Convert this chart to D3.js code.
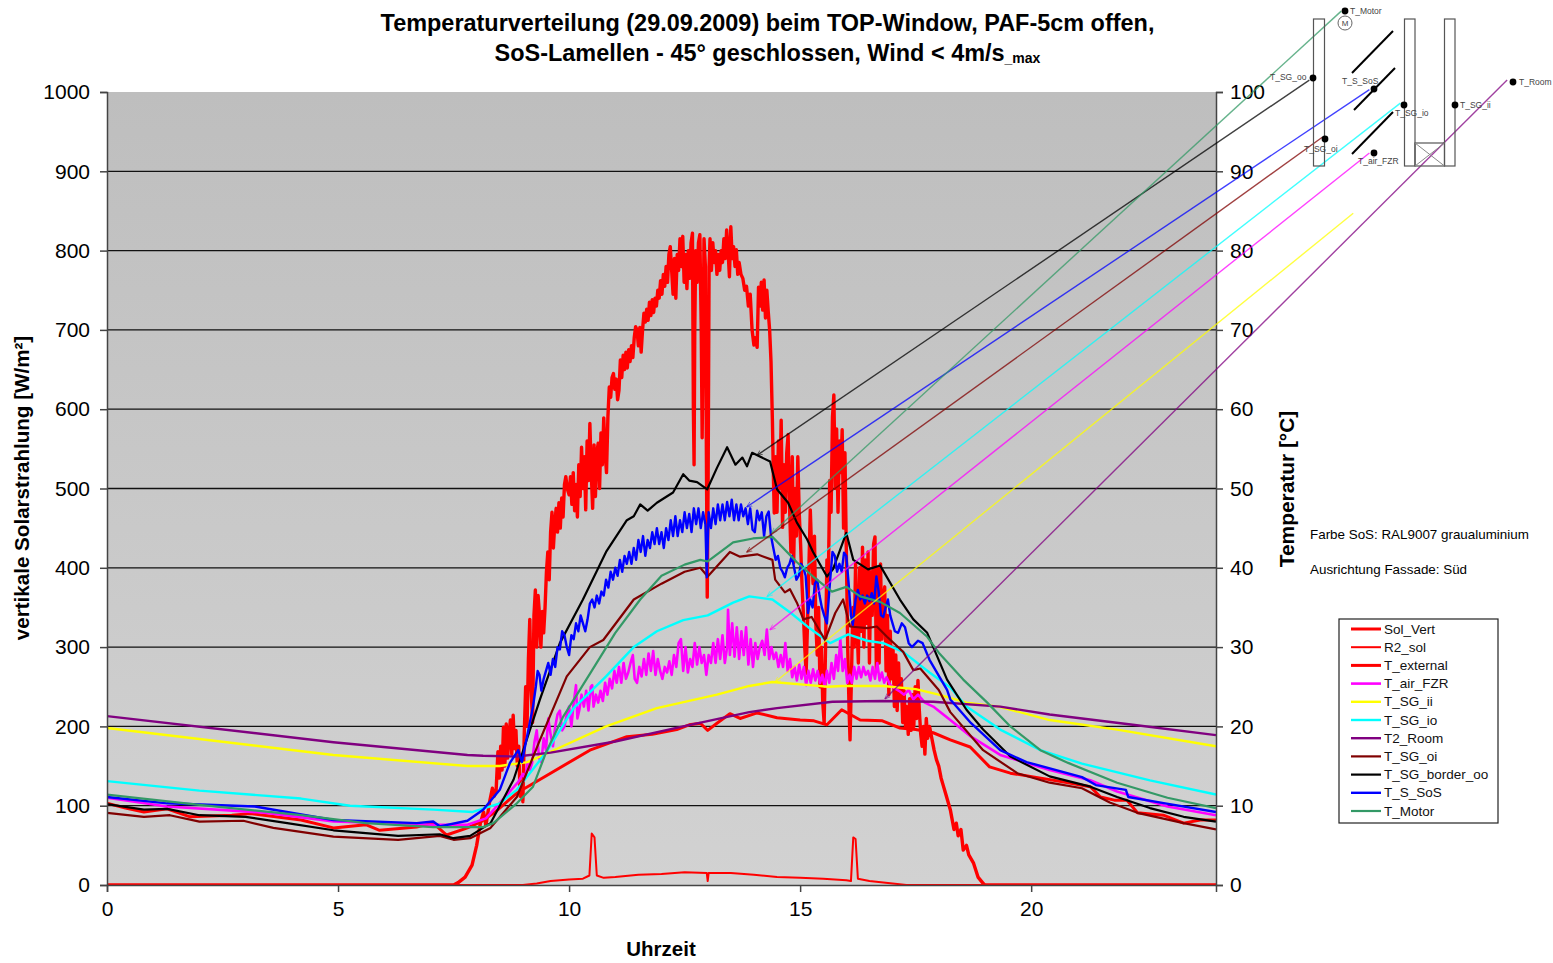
<!DOCTYPE html>
<html>
<head>
<meta charset="utf-8">
<script src="https://cdnjs.cloudflare.com/ajax/libs/d3/7.8.5/d3.min.js"></script>
<style>
  html, body { margin: 0; padding: 0; background: #fff; }
  svg { display: block; font-family: "Liberation Sans", Arial, sans-serif; }
</style>
</head>
<body>
<div id="chart"></div>
<script>
// all series are [hour, value]
var solVert = [[0,0],[7.5,0],[7.6,3],[7.75,10],[7.9,25],[8,50],[8.08,78],[8.15,92],[8.2,75],[8.28,105],[8.34,122],[8.38,112],[8.42,118],[8.46,168],[8.49,135],[8.52,175],[8.55,145],[8.58,199],[8.61,150],[8.64,203],[8.67,160],[8.7,190],[8.73,208],[8.76,165],[8.79,214],[8.82,172],[8.85,195],[8.88,150],[8.91,175],[8.94,112],[8.97,130],[9,105],[9.03,190],[9.06,250],[9.09,200],[9.12,285],[9.15,335],[9.18,245],[9.21,205],[9.24,340],[9.27,372],[9.3,300],[9.33,365],[9.36,340],[9.39,300],[9.42,345],[9.45,318],[9.48,350],[9.51,395],[9.54,420],[9.57,385],[9.6,445],[9.63,470],[9.66,425],[9.69,455],[9.72,475],[9.75,445],[9.78,482],[9.81,450],[9.84,488],[9.87,464],[9.9,505],[9.93,515],[9.96,500],[10,492],[10.03,515],[10.06,480],[10.09,520],[10.12,472],[10.15,505],[10.18,464],[10.21,530],[10.24,490],[10.27,552],[10.3,500],[10.33,540],[10.36,473],[10.39,560],[10.42,510],[10.45,582],[10.48,520],[10.51,475],[10.54,555],[10.57,490],[10.6,545],[10.63,557],[10.66,500],[10.69,570],[10.72,530],[10.75,589],[10.78,545],[10.81,520],[10.84,590],[10.87,628],[10.9,615],[10.93,640],[10.96,645],[10.99,625],[11.02,638],[11.05,612],[11.08,624],[11.11,662],[11.14,640],[11.17,668],[11.2,650],[11.23,672],[11.26,652],[11.29,675],[11.32,660],[11.35,680],[11.38,665],[11.41,690],[11.44,704],[11.47,700],[11.5,680],[11.53,703],[11.56,672],[11.59,700],[11.62,721],[11.65,710],[11.68,726],[11.71,712],[11.74,735],[11.77,718],[11.8,738],[11.83,722],[11.86,740],[11.89,730],[11.92,750],[11.95,740],[11.98,762],[12.01,745],[12.04,770],[12.07,755],[12.1,780],[12.13,760],[12.16,795],[12.19,805],[12.22,775],[12.25,745],[12.28,790],[12.31,740],[12.34,795],[12.37,775],[12.4,815],[12.43,780],[12.46,818],[12.49,760],[12.52,795],[12.55,752],[12.58,800],[12.61,765],[12.64,810],[12.67,822],[12.69,600],[12.705,530],[12.72,700],[12.74,800],[12.77,760],[12.8,810],[12.83,820],[12.86,700],[12.88,564],[12.9,690],[12.92,815],[12.95,780],[12.97,560],[12.99,363],[13.01,520],[13.03,780],[13.05,815],[13.08,775],[13.11,810],[13.14,785],[13.17,800],[13.2,770],[13.23,795],[13.26,775],[13.29,800],[13.32,785],[13.35,815],[13.38,790],[13.41,826],[13.44,800],[13.47,767],[13.5,830],[13.53,790],[13.56,805],[13.59,780],[13.62,801],[13.65,770],[13.68,785],[13.72,770],[13.76,765],[13.8,750],[13.84,755],[13.88,730],[13.92,745],[13.96,700],[14,681],[14.03,690],[14.07,678],[14.1,754],[14.13,730],[14.16,760],[14.19,725],[14.22,763],[14.25,715],[14.28,750],[14.31,723],[14.34,700],[14.37,660],[14.4,586],[14.42,520],[14.44,469],[14.47,540],[14.5,470],[14.53,560],[14.56,500],[14.59,586],[14.62,451],[14.65,530],[14.68,470],[14.71,545],[14.74,568],[14.77,480],[14.8,420],[14.83,540],[14.86,406],[14.89,500],[14.92,440],[14.95,540],[14.98,470],[15.01,430],[15.04,380],[15.07,343],[15.1,300],[15.13,267],[15.16,330],[15.19,400],[15.22,473],[15.25,420],[15.28,380],[15.31,440],[15.34,330],[15.37,290],[15.4,350],[15.43,250],[15.46,300],[15.49,230],[15.52,204],[15.55,300],[15.58,410],[15.61,380],[15.64,510],[15.67,470],[15.7,590],[15.73,618],[15.76,500],[15.79,575],[15.82,470],[15.85,560],[15.88,520],[15.91,574],[15.94,450],[15.97,545],[16,420],[16.03,300],[16.06,220],[16.08,183],[16.11,260],[16.14,350],[16.17,300],[16.2,406],[16.23,330],[16.26,280],[16.29,400],[16.32,320],[16.35,426],[16.38,300],[16.41,410],[16.44,330],[16.47,420],[16.5,280],[16.53,395],[16.56,340],[16.59,430],[16.62,439],[16.65,270],[16.68,400],[16.71,280],[16.74,405],[16.77,310],[16.8,360],[16.83,376],[16.86,270],[16.89,340],[16.92,240],[16.95,320],[16.98,260],[17.01,300],[17.04,225],[17.07,290],[17.1,220],[17.13,280],[17.16,235],[17.19,260],[17.22,205],[17.25,245],[17.28,200],[17.31,225],[17.34,190],[17.37,235],[17.4,195],[17.43,240],[17.46,200],[17.49,250],[17.52,210],[17.55,258],[17.58,220],[17.61,190],[17.64,175],[17.67,200],[17.7,165],[17.73,210],[17.76,185],[17.8,200],[17.85,185],[17.9,170],[17.95,158],[18,150],[18.05,135],[18.1,125],[18.15,115],[18.2,105],[18.25,95],[18.33,70],[18.38,78],[18.42,62],[18.48,70],[18.53,44],[18.6,50],[18.65,38],[18.75,28],[18.85,10],[18.96,2],[19,0],[24,0]];

var r2Sol = [[0,0],[9,0],[9.3,2],[9.6,5],[10,7],[10.3,8],[10.44,12],[10.49,65],[10.55,60],[10.6,12],[10.75,9],[11,10],[11.5,13],[12,14],[12.5,16],[12.98,15],[13,5],[13.02,15],[13.5,15],[14,13],[14.5,10],[15,9],[15.5,8],[16,6],[16.1,5],[16.15,60],[16.2,58],[16.25,8],[16.5,5],[17,2],[17.3,0],[24,0]];

var tExternal = [[0,10.3],[0.4,9.7],[0.8,9.2],[1.3,9.6],[1.8,8.6],[2.7,8.8],[3.1,9],[4.2,8.2],[4.9,7.2],[5.6,7.6],[5.9,6.9],[6.7,7.3],[7.06,7.8],[7.35,6.3],[7.8,7.2],[8.1,8],[8.4,9.2],[8.87,11.6],[9.6,14.1],[10.45,17],[11.25,18.7],[11.8,19],[12.33,19.6],[12.6,20.2],[12.84,20.4],[13,19.5],[13.2,20.4],[13.48,21.6],[13.7,21],[14.07,21.7],[14.5,21.1],[15,20.8],[15.3,20.7],[15.58,20.2],[15.9,22.1],[16.3,20.8],[16.78,20.7],[17.16,19.8],[17.5,19.6],[17.88,19.2],[18.25,18.3],[18.68,17.4],[19.1,14.9],[19.55,14.1],[19.98,13.7],[20.8,12.9],[21.28,12.4],[21.5,11.1],[21.8,10.7],[22.07,10.7],[22.3,9.1],[22.86,8.8],[23.3,7.8],[23.66,8.2],[24,8.2]];

var tAirFzr = [[0,11],[1.3,9.9],[3.46,9.1],[4.9,8],[7.06,7.6],[7.8,7.6],[8.2,8.4],[8.6,11],[8.9,13],[9,14],[9.05,13.5],[9.1,15.5],[9.15,14.5],[9.2,15.4],[9.25,18],[9.3,19.5],[9.35,16],[9.4,15.5],[9.45,18.5],[9.5,17],[9.55,21],[9.6,19],[9.65,17.5],[9.7,20],[9.75,21.5],[9.8,22],[9.85,19.5],[9.9,20],[9.95,21.5],[10,22.5],[10.05,20],[10.1,23],[10.15,25.2],[10.18,21],[10.22,22],[10.27,24],[10.32,22.5],[10.37,24.5],[10.42,22],[10.47,25],[10.5,25.2],[10.53,22.5],[10.58,24],[10.63,23],[10.68,24.5],[10.73,23.2],[10.78,25.5],[10.83,24],[10.88,26],[10.93,24.8],[10.98,27],[11.03,25.5],[11.08,27.5],[11.13,25.5],[11.18,28],[11.23,26],[11.28,26.8],[11.33,28],[11.38,29],[11.42,26],[11.47,25.5],[11.52,27.5],[11.57,26.3],[11.62,28.5],[11.67,26.5],[11.72,29.2],[11.77,27],[11.82,29.5],[11.87,26.5],[11.92,28.5],[11.97,27],[12.02,26],[12.07,27.5],[12.12,26.8],[12.17,28.2],[12.22,26.5],[12.27,29],[12.32,27.5],[12.37,30.5],[12.42,31],[12.47,27],[12.52,30],[12.57,26.8],[12.62,28.5],[12.67,27.5],[12.72,30.5],[12.77,27.8],[12.82,30],[12.87,28],[12.92,29],[12.97,26.5],[13.02,29],[13.07,28],[13.12,30.5],[13.17,28],[13.22,31],[13.27,28.5],[13.32,31.5],[13.37,28],[13.42,30],[13.44,34.7],[13.48,29],[13.53,33],[13.58,28.8],[13.63,32.5],[13.68,28.5],[13.73,32],[13.78,29],[13.83,32.5],[13.88,27.8],[13.93,31],[13.98,27.5],[14.03,30.5],[14.08,28.5],[14.13,30],[14.18,30.8],[14.23,29],[14.28,32.2],[14.33,28.5],[14.38,30],[14.43,28.5],[14.48,29.3],[14.53,27.5],[14.58,29],[14.63,27.5],[14.68,30.5],[14.73,27],[14.78,28.5],[14.83,26.2],[14.88,27.5],[14.93,25.8],[14.98,27.8],[15.03,26],[15.08,27.5],[15.13,25.2],[15.18,27],[15.23,25.5],[15.28,27.2],[15.33,25.8],[15.38,27],[15.43,25.5],[15.48,26.5],[15.53,25],[15.58,27],[15.63,25.5],[15.68,28],[15.73,26],[15.78,29],[15.82,27],[15.87,31],[15.92,27],[15.97,28.5],[16.02,25.5],[16.07,26.5],[16.12,25.5],[16.17,27.5],[16.22,26],[16.27,27.5],[16.32,26.2],[16.37,27.5],[16.42,26.5],[16.47,27],[16.52,25.8],[16.57,27.5],[16.62,26],[16.67,28],[16.72,25.8],[16.77,26.8],[16.82,25.5],[16.87,26.2],[16.95,25.2],[17.05,24.8],[17.16,24.4],[17.25,24],[17.35,24.6],[17.45,23.4],[17.55,24],[17.7,23],[17.88,22.5],[18.25,20.8],[18.7,18.7],[19.33,16.4],[20.4,14.5],[21.28,13.2],[21.86,11.8],[22.95,9.9],[24,8.8]];

var tSgIi = [[0,19.8],[4.9,16.4],[7.8,15],[8.5,15],[9.1,15.5],[9.6,16.8],[10.8,20],[11.9,22.3],[13.2,24],[13.9,25.1],[14.4,25.6],[15.2,25.2],[15.6,25],[15.9,25.1],[16.8,25.1],[17.5,24.7],[18,24],[18.6,23],[19.3,22.5],[20.4,20.8],[21.86,19.6],[24,17.5]];

var tSgIo = [[0,13.1],[2,11.9],[4.2,10.9],[5.26,10],[7.06,9.5],[7.9,9.2],[8.5,10.3],[8.87,12],[9.5,16.7],[10.1,22.3],[10.8,26.3],[11.4,30],[11.9,32],[12.47,33.4],[13,34],[13.55,35.6],[13.9,36.4],[14.4,36],[14.8,34.3],[15.2,32.4],[15.65,30.5],[16.04,31.6],[16.45,30.8],[16.8,30.5],[17.23,29.4],[17.8,26.8],[18.25,24.9],[18.6,22.5],[19.33,19.6],[20.2,17],[21.1,15.3],[22.57,13.2],[24,11.4]];

var t2Room = [[0,21.3],[4.9,18],[7.8,16.4],[8.14,16.3],[8.87,16.2],[9.6,16.7],[11,18.1],[12.47,20],[13.9,21.8],[14.5,22.3],[15.7,23.1],[16.8,23.2],[17.88,23.1],[19.33,22.5],[20.4,21.5],[22.2,20.2],[24,18.9]];

var tSgOi = [[0,9.1],[0.8,8.6],[1.36,8.8],[2,8],[2.95,8.1],[3.6,7.2],[4.9,6.1],[6.3,5.7],[7.2,6.2],[7.5,5.7],[7.86,5.9],[8.3,7.2],[8.87,11.1],[9.37,18.3],[9.95,26.3],[10.45,30],[10.74,30.9],[11.4,36],[12,38],[12.5,39.5],[12.84,40],[13,38.9],[13.48,42],[13.7,41.4],[14.07,41.7],[14.4,41],[14.46,38.5],[14.67,36.9],[14.78,37.3],[14.93,35.6],[15.07,33.5],[15.25,33.8],[15.54,30.9],[15.76,34.3],[15.93,36],[16.08,32.6],[16.45,32.4],[16.66,32.6],[16.88,31.3],[17.23,29.4],[17.45,27.1],[17.6,27.3],[18,24.6],[18.25,21.8],[18.96,17],[19.7,14.1],[20.4,12.9],[21.1,12.2],[21.7,10.4],[22.3,9.1],[23.3,7.8],[24,7]];

var tSgBorderOo = [[0,10.2],[0.8,9.5],[1.3,9.6],[2,8.8],[3,8.6],[3.9,7.8],[4.9,6.9],[6.3,6.2],[7.2,6.4],[7.5,5.9],[7.86,6.2],[8.3,7.8],[8.8,13.3],[9.37,23.4],[9.8,30.5],[10.3,36],[10.8,42],[11.25,46],[11.4,46.5],[11.54,48],[11.7,47.2],[11.9,48.2],[12.25,49.5],[12.47,51.8],[12.6,51],[12.77,50.8],[12.99,49.9],[13.2,52.6],[13.42,55.2],[13.6,53],[13.75,53.9],[13.85,52.8],[13.96,54.5],[14.35,53.4],[14.5,49.9],[14.74,48.2],[14.93,45.7],[15.15,43.6],[15.28,42],[15.58,38.9],[15.71,39.8],[16,44.4],[16.15,41],[16.47,39.8],[16.73,40.3],[17.16,36],[17.45,33.5],[17.75,31.8],[18.18,25.9],[18.6,22.1],[18.96,19.6],[19.55,16.2],[20.4,13.7],[21.28,12.4],[21.86,11.1],[22.57,9.7],[23.3,8.6],[24,8]];

var tSSos = [[0,11.1],[1.3,10.3],[3.2,9.9],[4.9,8.2],[6.7,7.8],[7.06,8],[7.2,7.4],[7.8,8.1],[8.14,9.5],[8.5,12],[8.72,15.4],[8.9,17],[8.98,15.5],[9.1,19],[9.22,22.5],[9.28,25],[9.32,27],[9.36,26.5],[9.4,24.5],[9.45,26],[9.5,27],[9.55,28],[9.6,26.5],[9.65,28.5],[9.7,27.5],[9.75,30],[9.8,29.7],[9.85,32],[9.9,31.5],[9.95,30],[10,29],[10.05,31.5],[10.1,31],[10.15,33],[10.2,32],[10.25,34],[10.3,33],[10.35,32],[10.4,33.5],[10.45,35.5],[10.5,36],[10.55,35],[10.6,36.5],[10.65,35.5],[10.7,37],[10.75,36.5],[10.8,38.5],[10.85,37.5],[10.9,39.5],[10.95,38.5],[11,40],[11.05,39],[11.1,41],[11.15,39.5],[11.2,41.5],[11.25,40.5],[11.3,42],[11.35,40.5],[11.4,42.5],[11.45,41],[11.5,43.5],[11.55,42],[11.6,44],[11.65,41.5],[11.7,43.5],[11.75,42.5],[11.8,44.5],[11.85,43],[11.9,45],[11.95,43],[12,44.5],[12.05,42.5],[12.1,45],[12.15,43.5],[12.2,46],[12.25,44],[12.3,46.5],[12.35,44],[12.4,46],[12.45,44.5],[12.5,47],[12.55,45],[12.6,46.8],[12.65,44.5],[12.7,47.5],[12.75,45.5],[12.8,47.5],[12.85,45],[12.9,47],[12.95,45.5],[12.98,38.8],[13.02,47],[13.07,45],[13.12,47.5],[13.17,45.5],[13.22,48],[13.27,46],[13.32,48],[13.37,46],[13.42,48.3],[13.47,46.5],[13.52,48.6],[13.57,46],[13.62,48],[13.67,46],[13.72,48],[13.77,46.5],[13.82,47.5],[13.87,45.5],[13.92,47.5],[13.97,44.8],[14.02,44.5],[14.07,47.2],[14.12,46],[14.17,47],[14.22,44],[14.27,46.5],[14.32,47.1],[14.37,44],[14.42,42.5],[14.47,41],[14.52,41.5],[14.57,40],[14.62,39.5],[14.67,38.8],[14.72,40],[14.77,40.5],[14.82,41.5],[14.87,40],[14.92,38.5],[14.97,39],[15.02,40.5],[15.07,40],[15.12,39],[15.17,34.3],[15.22,36],[15.27,35],[15.32,38],[15.37,38.5],[15.42,36.5],[15.47,35],[15.52,34],[15.58,33],[15.63,37],[15.7,42],[15.75,41.5],[15.8,39.5],[15.85,40.5],[15.9,39.5],[15.95,41.9],[16,41.5],[16.05,38],[16.1,34],[16.14,32.8],[16.2,36],[16.25,37.2],[16.3,36],[16.35,36.5],[16.4,35.5],[16.45,36.5],[16.5,35.8],[16.55,36.8],[16.6,35.5],[16.65,38.9],[16.7,37],[16.75,34],[16.8,33.8],[16.85,35],[16.9,36],[16.95,34],[17,33],[17.05,32],[17.12,31.8],[17.2,33],[17.27,32.5],[17.35,30.5],[17.42,30],[17.55,30.8],[17.65,30.5],[17.8,28.4],[18.18,24.6],[18.25,23.4],[18.7,20.4],[19.33,17],[19.9,15.5],[21.1,13.6],[21.4,12.6],[22.05,12],[22.1,11.1],[22.9,10.3],[24,9.2]];

var tMotor = [[0,11.4],[2,10.1],[4.2,8.8],[5.6,7.8],[7.06,7.3],[8.14,7.3],[8.36,7.8],[8.87,10.3],[9.22,12.4],[9.5,16.7],[9.87,21.2],[10.5,27.1],[11,31.8],[11.54,36],[12,39],[12.5,40.4],[12.84,41],[13,40.8],[13.55,43.2],[13.98,43.7],[14.4,43.9],[14.93,40.7],[15.28,38.9],[15.69,37],[16,37.6],[16.3,36.4],[16.73,35.7],[17.16,34.3],[17.75,31.3],[18,29.3],[18.53,25.9],[19.05,23],[19.55,20],[20.2,17],[20.8,15.4],[21.86,12.9],[22.95,11],[24,9.7]];

var seriesNames = ["Sol_Vert", "R2_sol", "T_external", "T_air_FZR", "T_SG_ii", "T_SG_io", "T2_Room", "T_SG_oi", "T_SG_border_oo", "T_S_SoS", "T_Motor"];
var seriesData = [solVert, r2Sol, tExternal, tAirFzr, tSgIi, tSgIo, t2Room, tSgOi, tSgBorderOo, tSSos, tMotor];
var seriesColors = ["#ff0000", "#ff0000", "#ff0000", "#ff00ff", "#ffff00", "#00ffff", "#800080", "#800000", "#000000", "#0000ff", "#339966"];
var seriesWidths = [3.4, 2, 3, 2.6, 2.4, 2.4, 2.4, 2.2, 2.2, 2.4, 2.2];
// the first two are read on the left axis, the rest on the right one
var onLeftAxis = [true, true, false, false, false, false, false, false, false, false, false];

var xTicks = [0, 5, 10, 15, 20];
var solarTicks = [0, 100, 200, 300, 400, 500, 600, 700, 800, 900, 1000];
var tempTicks = [0, 10, 20, 30, 40, 50, 60, 70, 80, 90, 100];

// leader lines from a curve up to the sensor sketch: [hour, temp, hour, temp]
var leaderLines = [
  [14.07, 54.2, 26.02, 101.5, "#000000"],
  [13.85, 47.7, 27.32, 100.3, "#0000ff"],
  [14.39, 44.4, 26.71, 110.2, "#339966"],
  [13.85, 42, 26.3, 94.3, "#800000"],
  [14.29, 36.4, 27.99, 98.6, "#00ffff"],
  [14.35, 32.2, 27.32, 92.3, "#ff00ff"],
  [14.46, 25.6, 26.97, 84.7, "#ffff00"],
  [16.84, 23.5, 30.3, 101.5, "#800080"]
];

var svgWidth = 1553;
var svgHeight = 963;

var margin = { top: 92, right: 337, bottom: 78, left: 107 };
var chartWidth = svgWidth - margin.left - margin.right;
var chartHeight = svgHeight - margin.top - margin.bottom;

var svg = d3.select("#chart")
  .append("svg")
  .attr("width", svgWidth)
  .attr("height", svgHeight);

var defs = svg.append("defs");
var grad = defs.append("linearGradient")
  .attr("id", "plotBg")
  .attr("x1", 0).attr("y1", 0).attr("x2", 0).attr("y2", 1);
grad.append("stop").attr("offset", "0%").attr("stop-color", "#bebebe");
grad.append("stop").attr("offset", "100%").attr("stop-color", "#d2d2d2");

var chartGroup = svg.append("g")
  .attr("transform", `translate(${margin.left}, ${margin.top})`);

defs.append("clipPath")
  .attr("id", "plotClip")
  .append("rect")
  .attr("width", chartWidth)
  .attr("height", chartHeight);

var xScale = d3.scaleLinear().domain([0, 24]).range([0, chartWidth]);
var solarScale = d3.scaleLinear().domain([0, 1000]).range([chartHeight, 0]);
var tempScale = d3.scaleLinear().domain([0, 100]).range([chartHeight, 0]);

chartGroup.append("rect")
  .attr("width", chartWidth)
  .attr("height", chartHeight)
  .attr("fill", "url(#plotBg)");

// horizontal grid
chartGroup.selectAll(".grid")
  .data(solarTicks.slice(1, -1))
  .enter()
  .append("line")
  .attr("class", "grid")
  .attr("x1", 0)
  .attr("x2", chartWidth)
  .attr("y1", d => solarScale(d))
  .attr("y2", d => solarScale(d))
  .attr("stroke", "#111")
  .attr("stroke-width", 1.3);

// curves, clipped so the zero lines stay thin along the axis
var curveGroup = chartGroup.append("g").attr("clip-path", "url(#plotClip)");
seriesData.forEach(function(rows, i) {
  var yScale = onLeftAxis[i] ? solarScale : tempScale;
  var line = d3.line()
    .x(d => xScale(d[0]))
    .y(d => yScale(d[1]));
  curveGroup.append("path")
    .datum(rows)
    .attr("d", line)
    .attr("fill", "none")
    .attr("stroke", seriesColors[i])
    .attr("stroke-width", seriesWidths[i])
    .attr("stroke-linejoin", "round");
});

// axes
var xAxis = d3.axisBottom(xScale).tickValues(xTicks).tickSize(7).tickPadding(9);
var leftAxis = d3.axisLeft(solarScale).tickValues(solarTicks).tickFormat(d3.format("d")).tickSize(7).tickPadding(10);
var rightAxis = d3.axisRight(tempScale).tickValues(tempTicks).tickSize(7).tickPadding(7);

var axisGroups = [
  chartGroup.append("g").attr("transform", `translate(0, ${chartHeight})`).call(xAxis),
  chartGroup.append("g").call(leftAxis),
  chartGroup.append("g").attr("transform", `translate(${chartWidth}, 0)`).call(rightAxis)
];
axisGroups.forEach(function(g) {
  g.selectAll("text").attr("font-size", 21).attr("fill", "#000");
  g.selectAll("path, line").attr("stroke", "#444").attr("stroke-width", 1.5);
});

// leader lines
leaderLines.forEach(function(d, i) {
  var marker = defs.append("marker")
    .attr("id", "arrow" + i)
    .attr("viewBox", "0 0 8 8")
    .attr("refX", 1).attr("refY", 4)
    .attr("markerWidth", 6).attr("markerHeight", 6)
    .attr("markerUnits", "userSpaceOnUse")
    .attr("orient", "auto");
  marker.append("path")
    .attr("d", "M8,0.8L0,4L8,7.2")
    .attr("fill", "none")
    .attr("stroke", d[4])
    .attr("stroke-opacity", 0.7)
    .attr("stroke-width", 1);
  chartGroup.append("line")
    .attr("x1", xScale(d[0]))
    .attr("y1", tempScale(d[1]))
    .attr("x2", xScale(d[2]))
    .attr("y2", tempScale(d[3]))
    .attr("stroke", d[4])
    .attr("stroke-width", 1.4)
    .attr("stroke-opacity", 0.75)
    .attr("marker-start", `url(#arrow${i})`);
});

// titles
var title = svg.append("g").attr("font-weight", "bold").attr("text-anchor", "middle").attr("font-size", 23.45);
title.append("text").attr("x", 767.5).attr("y", 31).text("Temperaturverteilung (29.09.2009) beim TOP-Window, PAF-5cm offen,");
var title2 = title.append("text").attr("x", 767.5).attr("y", 61);
title2.append("tspan").text("SoS-Lamellen - 45° geschlossen, Wind < 4m/s");
title2.append("tspan").attr("font-size", 14).attr("dy", 2).text("_max");

svg.append("text")
  .attr("transform", "translate(29, 488) rotate(-90)")
  .attr("text-anchor", "middle")
  .attr("font-weight", "bold")
  .attr("font-size", 20.6)
  .text("vertikale Solarstrahlung [W/m²]");

svg.append("text")
  .attr("transform", "translate(1294, 489) rotate(-90)")
  .attr("text-anchor", "middle")
  .attr("font-weight", "bold")
  .attr("font-size", 20.9)
  .text("Temperatur [°C]");

svg.append("text")
  .attr("x", 661)
  .attr("y", 956)
  .attr("text-anchor", "middle")
  .attr("font-weight", "bold")
  .attr("font-size", 20.5)
  .text("Uhrzeit");

// side notes
svg.append("text").attr("x", 1310).attr("y", 539).attr("font-size", 13.4).text("Farbe SoS: RAL9007 graualuminium");
svg.append("text").attr("x", 1310).attr("y", 574).attr("font-size", 13.4).text("Ausrichtung Fassade: Süd");

// legend
var legend = svg.append("g").attr("transform", "translate(1339, 619)");
legend.append("rect")
  .attr("width", 159)
  .attr("height", 204)
  .attr("fill", "#fff")
  .attr("stroke", "#222")
  .attr("stroke-width", 1.2);
seriesNames.forEach(function(name, i) {
  var y = 10 + i * 18.2;
  legend.append("line")
    .attr("x1", 12).attr("x2", 42)
    .attr("y1", y).attr("y2", y)
    .attr("stroke", seriesColors[i])
    .attr("stroke-width", Math.min(seriesWidths[i], 3));
  legend.append("text")
    .attr("x", 45)
    .attr("y", y + 4.5)
    .attr("font-size", 13.5)
    .attr("fill", "#111")
    .text(name);
});

// sensor sketch, top right
var sketch = svg.append("g");
var panes = [[1313.5, 19, 11, 147], [1404.5, 19, 10.5, 147], [1444.5, 19, 10.5, 147], [1415, 143, 29.5, 23]];
sketch.selectAll("rect").data(panes).enter().append("rect")
  .attr("x", d => d[0]).attr("y", d => d[1]).attr("width", d => d[2]).attr("height", d => d[3])
  .attr("fill", "none").attr("stroke", "#555").attr("stroke-width", 1.2);

var slats = [[1352, 73, 1393, 31], [1354, 110, 1395, 68], [1352, 154, 1393, 112]];
sketch.selectAll(".slat").data(slats).enter().append("line")
  .attr("class", "slat")
  .attr("x1", d => d[0]).attr("y1", d => d[1]).attr("x2", d => d[2]).attr("y2", d => d[3])
  .attr("stroke", "#000").attr("stroke-width", 2);

var crosses = [[1415, 143, 1444.5, 166], [1415, 166, 1444.5, 143]];
sketch.selectAll(".cross").data(crosses).enter().append("line")
  .attr("class", "cross")
  .attr("x1", d => d[0]).attr("y1", d => d[1]).attr("x2", d => d[2]).attr("y2", d => d[3])
  .attr("stroke", "#888").attr("stroke-width", 1);

sketch.append("circle").attr("cx", 1345).attr("cy", 23).attr("r", 7)
  .attr("fill", "none").attr("stroke", "#666").attr("stroke-width", 1);
sketch.append("text").attr("x", 1345).attr("y", 26).attr("text-anchor", "middle")
  .attr("font-size", 8).attr("fill", "#444").text("M");

var sensors = [
  ["T_Motor", 1345, 11, 1350, 14],
  ["T_SG_oo", 1313, 78, 1270, 80],
  ["T_S_SoS", 1374, 89, 1342, 84],
  ["T_SG_oi", 1325, 139, 1304, 152],
  ["T_SG_io", 1404, 105, 1395, 116],
  ["T_SG_ii", 1455, 105, 1460, 108],
  ["T_air_FZR", 1374, 153, 1358, 164],
  ["T_Room", 1513, 82, 1519, 85]
];
sketch.selectAll(".dot").data(sensors).enter().append("circle")
  .attr("class", "dot")
  .attr("cx", d => d[1]).attr("cy", d => d[2]).attr("r", 3.4).attr("fill", "#000");
sketch.selectAll(".label").data(sensors).enter().append("text")
  .attr("class", "label")
  .attr("x", d => d[3]).attr("y", d => d[4])
  .attr("font-size", 8.5).attr("fill", "#444")
  .text(d => d[0]);
</script>
</body>
</html>
